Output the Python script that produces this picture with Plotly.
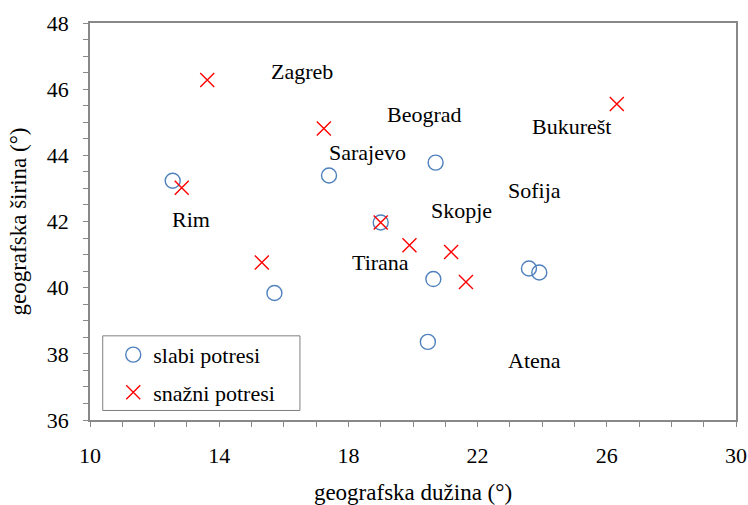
import plotly.graph_objects as go

# Epicentres (longitude, latitude) of weak earthquakes
slabi_lon = [12.56, 17.40, 20.70, 19.00, 15.71, 20.63, 23.59, 23.91, 20.46]
slabi_lat = [43.23, 43.39, 43.78, 41.97, 39.84, 40.26, 40.58, 40.46, 38.36]

# Epicentres (longitude, latitude) of strong earthquakes
snazni_lon = [13.63, 17.24, 12.84, 19.00, 19.89, 21.18, 21.64, 15.32, 26.31]
snazni_lat = [46.28, 44.81, 43.02, 41.97, 41.28, 41.08, 40.17, 40.76, 45.55]

# Capital cities shown as text labels
gradovi = ["Zagreb", "Beograd", "Bukurešt", "Sarajevo", "Sofija",
           "Skopje", "Rim", "Tirana", "Atena"]
gradovi_lon = [16.56, 20.37, 24.92, 18.58, 23.75, 21.49, 13.13, 18.98, 23.75]
gradovi_lat = [46.52, 45.22, 44.88, 44.10, 42.95, 42.34, 42.07, 40.77, 37.81]

FONT = "Liberation Serif"
AXIS_COLOR = "#888888"
TEXT_COLOR = "#000000"

fig = go.Figure()

fig.add_trace(go.Scatter(
    x=slabi_lon, y=slabi_lat, mode="markers", name="slabi potresi",
    legendgroup="a",
    marker=dict(symbol="circle-open", size=15, color="#4F81BD",
                line=dict(width=1.4, color="#4F81BD")),
))
fig.add_trace(go.Scatter(
    x=snazni_lon, y=snazni_lat, mode="markers", name="snažni potresi",
    legendgroup="b",
    marker=dict(symbol="x-thin-open", size=14, color="#FF0000",
                line=dict(width=1.4, color="#FF0000")),
))

for name, lon, lat in zip(gradovi, gradovi_lon, gradovi_lat):
    fig.add_annotation(x=lon, y=lat, text=name, showarrow=False,
                       xanchor="center", yanchor="middle",
                       font=dict(family=FONT, size=22, color=TEXT_COLOR))

# Legend frame
fig.add_shape(type="rect", xref="paper", yref="paper",
              x0=0.0197, x1=0.325, y0=0.024, y1=0.212,
              line=dict(color="#7f7f7f", width=1), fillcolor="rgba(0,0,0,0)")

axis_common = dict(
    showline=True, linecolor=AXIS_COLOR, linewidth=1.5, mirror=True,
    showgrid=False, zeroline=False, automargin=False,
    ticks="outside", ticklen=5, tickcolor=AXIS_COLOR, tickwidth=1,
    ticklabelstandoff=10,
    tickfont=dict(family=FONT, size=22, color=TEXT_COLOR),
)

fig.update_xaxes(
    range=[10, 30], tick0=10, dtick=4,
    minor=dict(dtick=1, ticks="outside", ticklen=5, tickcolor=AXIS_COLOR),
    title=dict(text="geografska dužina (°)", standoff=21,
               font=dict(family=FONT, size=23, color=TEXT_COLOR)),
    **axis_common,
)
fig.update_yaxes(
    range=[36, 48], tick0=36, dtick=2,
    minor=dict(dtick=0.5, ticks="outside", ticklen=5, tickcolor=AXIS_COLOR),
    title=dict(text="geografska širina (°)", standoff=14,
               font=dict(family=FONT, size=23, color=TEXT_COLOR)),
    **axis_common,
)

fig.update_layout(
    width=748, height=505,
    margin=dict(l=90, r=12, t=23, b=85),
    paper_bgcolor="white", plot_bgcolor="white",
    font=dict(family=FONT, size=22, color=TEXT_COLOR),
    showlegend=True,
    legend=dict(x=0.036, y=0.217, xanchor="left", yanchor="top",
                bgcolor="rgba(0,0,0,0)", borderwidth=0,
                tracegroupgap=6, traceorder="grouped",
                font=dict(family=FONT, size=22, color=TEXT_COLOR)),
)

fig.write_html("out.html")
